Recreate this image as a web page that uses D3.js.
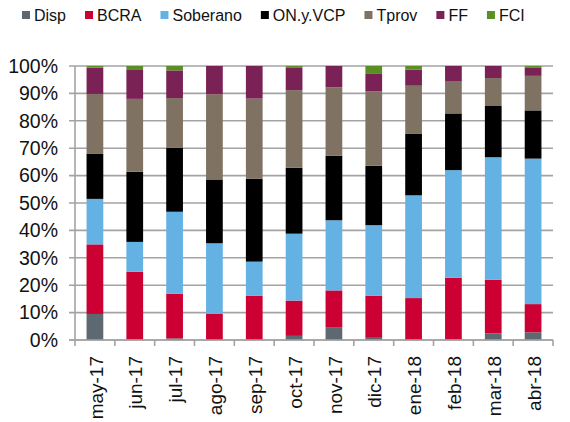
<!DOCTYPE html>
<html>
<head>
<meta charset="utf-8">
<script src="https://cdn.jsdelivr.net/npm/d3@7"></script>
<style>
  body { margin: 0; background: #fff; }
  svg { font-family: "Liberation Sans", Arial, sans-serif; }
</style>
</head>
<body>
<svg id="chart" width="570" height="422"></svg>
<script>
// categories (months)
const months = ['may-17', 'jun-17', 'jul-17', 'ago-17', 'sep-17', 'oct-17', 'nov-17', 'dic-17', 'ene-18', 'feb-18', 'mar-18', 'abr-18'];

// series shares, in % of total
const disp     = [9.5, 0.3, 0.6, 0, 0, 1.5, 4.7, 0.8, 0, 0.3, 2.4, 2.8];
const bcra     = [25.4, 24.6, 16.3, 9.5, 16.2, 12.9, 13.4, 15.4, 15.3, 22.4, 19.6, 10.3];
const soberano = [16.6, 10.9, 29.9, 25.8, 12.4, 24.4, 25.6, 25.7, 37.5, 39.3, 44.7, 53.1];
const onVcp    = [16.4, 25.6, 23.4, 23.3, 30.3, 24.1, 23.6, 21.7, 22.4, 20.7, 18.7, 17.6];
const tprov    = [21.9, 26.6, 18.1, 31.1, 29.2, 28.3, 24.9, 27.1, 17.6, 11.6, 10.2, 12.6];
const ff       = [9.6, 10.8, 10.1, 10.3, 11.9, 8.1, 7.8, 6.4, 5.9, 5.7, 4.4, 3.1];
const fci      = [0.6, 1.2, 1.6, 0, 0, 0.7, 0, 2.9, 1.3, 0, 0, 0.5];

const seriesNames = ['Disp', 'BCRA', 'Soberano', 'ON.y.VCP', 'Tprov', 'FF', 'FCI'];
const seriesValues = [disp, bcra, soberano, onVcp, tprov, ff, fci];
const colors = ['#5d6870', '#cc0033', '#64b1e4', '#000000', '#7f7262', '#7a2255', '#5a8f23'];

const yTicks = [0, 0.1, 0.2, 0.3, 0.4, 0.5, 0.6, 0.7, 0.8, 0.9, 1];

const svg = d3.select('#chart');
const margin = { top: 66, right: 17, bottom: 82, left: 75 };
const width = 570 - margin.left - margin.right;
const height = 422 - margin.top - margin.bottom;

const rows = months.map((m, i) => {
  const r = { month: m };
  seriesNames.forEach((s, j) => { r[s] = seriesValues[j][i]; });
  return r;
});

const stacked = d3.stack()
  .keys(seriesNames)
  .offset(d3.stackOffsetExpand)(rows);

const x = d3.scaleBand().domain(months).range([0, width]).paddingInner(0.58).paddingOuter(0.29);
const xBand = d3.scaleBand().domain(months).range([0, width]);
const y = d3.scaleLinear().domain([0, 1]).range([height, 0]);

const g = svg.append('g').attr('transform', `translate(${margin.left},${margin.top})`);

// gridlines
g.append('g')
  .selectAll('line')
  .data(yTicks)
  .join('line')
  .attr('x1', -6)
  .attr('x2', width)
  .attr('y1', d => y(d))
  .attr('y2', d => y(d))
  .attr('stroke', '#a3a3a3')
  .attr('stroke-width', 1.6);

// bars
g.append('g')
  .selectAll('g')
  .data(stacked)
  .join('g')
  .attr('fill', (d, i) => colors[i])
  .selectAll('rect')
  .data(d => d)
  .join('rect')
  .attr('x', d => x(d.data.month))
  .attr('width', x.bandwidth())
  .attr('y', d => y(d[1]))
  .attr('height', d => Math.max(0, y(d[0]) - y(d[1])));

// y axis
const yAxis = g.append('g')
  .call(d3.axisLeft(y).tickValues(yTicks).tickFormat(d3.format('.0%')).tickSize(0).tickPadding(17));
yAxis.select('.domain').remove();
yAxis.selectAll('text').attr('font-size', 19.5).attr('fill', '#111');

g.append('line')
  .attr('x1', 0).attr('x2', 0)
  .attr('y1', 0).attr('y2', height + 6)
  .attr('stroke', '#a3a3a3').attr('stroke-width', 1.6);

// x axis
g.append('line')
  .attr('x1', -6).attr('x2', width)
  .attr('y1', height).attr('y2', height)
  .attr('stroke', '#a3a3a3').attr('stroke-width', 1.6);

g.append('g')
  .selectAll('line')
  .data(months)
  .join('line')
  .attr('x1', d => xBand(d) + xBand.bandwidth())
  .attr('x2', d => xBand(d) + xBand.bandwidth())
  .attr('y1', height)
  .attr('y2', height + 6)
  .attr('stroke', '#a3a3a3').attr('stroke-width', 1.6);

g.append('g')
  .selectAll('text')
  .data(months)
  .join('text')
  .attr('transform', d => `translate(${xBand(d) + xBand.bandwidth() / 2 + 1},${height + 16}) rotate(-90)`)
  .attr('text-anchor', 'end')
  .attr('dy', '0.35em')
  .attr('font-size', 19)
  .attr('fill', '#111')
  .text(d => d);

// legend
const legend = svg.append('g').attr('transform', 'translate(22,15)');
let lx = 0;
seriesNames.forEach((s, i) => {
  const item = legend.append('g').attr('transform', `translate(${lx},0)`);
  item.append('rect')
    .attr('x', 0).attr('y', -4)
    .attr('width', 8).attr('height', 8)
    .attr('fill', colors[i]);
  const t = item.append('text')
    .attr('x', 12)
    .attr('dy', '0.35em')
    .attr('font-size', 16)
    .attr('fill', '#111')
    .text(s);
  lx += 12 + t.node().getComputedTextLength() + 19;
});
</script>
</body>
</html>
